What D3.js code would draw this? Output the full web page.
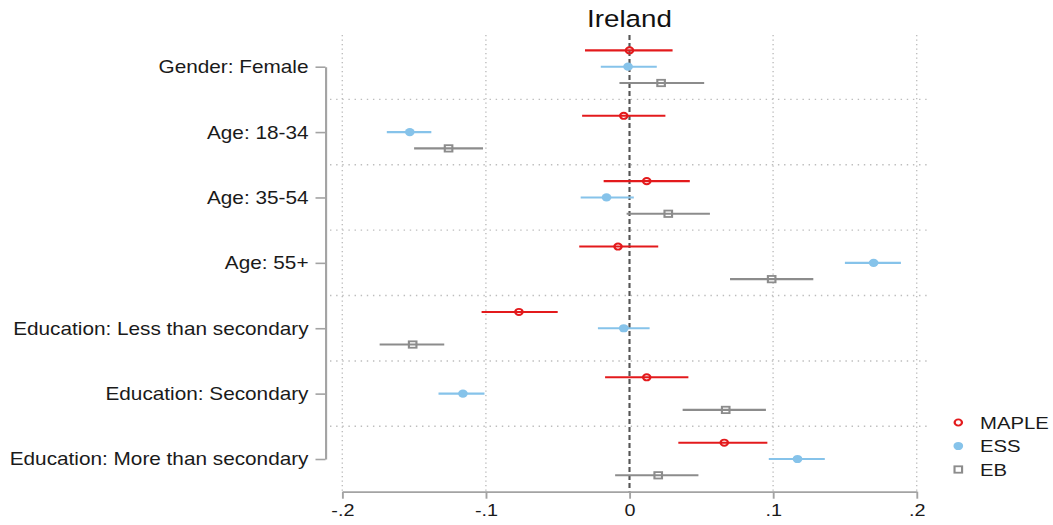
<!DOCTYPE html>
<html>
<head>
<meta charset="utf-8">
<script src="https://cdn.jsdelivr.net/npm/d3@7"></script>
<style>
  html, body { margin: 0; padding: 0; background: #fff; }
  svg { display: block; font-family: "Liberation Sans", Arial, sans-serif; }
</style>
</head>
<body>
<div id="chart"></div>
<script>
// ── Data ───────────────────────────────────────────────────────────────────
var categories = [
  "Gender: Female",
  "Age: 18-34",
  "Age: 35-54",
  "Age: 55+",
  "Education: Less than secondary",
  "Education: Secondary",
  "Education: More than secondary"
];

var mapleEst = [ 0.000, -0.004,  0.012, -0.008, -0.077,  0.012,  0.066];
var mapleLo  = [-0.031, -0.033, -0.018, -0.035, -0.103, -0.017,  0.034];
var mapleHi  = [ 0.030,  0.025,  0.042,  0.020, -0.050,  0.041,  0.096];

var essEst   = [-0.001, -0.153, -0.016,  0.170, -0.004, -0.116,  0.117];
var essLo    = [-0.020, -0.169, -0.034,  0.150, -0.022, -0.133,  0.097];
var essHi    = [ 0.019, -0.138,  0.003,  0.189,  0.014, -0.101,  0.136];

var ebEst    = [ 0.022, -0.126,  0.027,  0.099, -0.151,  0.067,  0.020];
var ebLo     = [-0.007, -0.150, -0.002,  0.070, -0.174,  0.037, -0.010];
var ebHi     = [ 0.052, -0.102,  0.056,  0.128, -0.129,  0.095,  0.048];

var seriesNames = ["MAPLE", "ESS", "EB"];
var xTicks      = [-0.2, -0.1, 0, 0.1, 0.2];
var xTickLabels = ["-.2", "-.1", "0", ".1", ".2"];
var title       = "Ireland";

// ── Layout ────────────────────────────────────────────────────────────────
// The reference is horizontally stretched; draw in a narrower box and
// let the svg stretch it back out.
var W = 1053, H = 525, S = 1.18;
function sx(px) { return px / S; }

var COLORS = { MAPLE: "#e31a1c", ESS: "#86c3ea", EB: "#8c8c8c" };
var OFFSET = { MAPLE: -16.3, ESS: 0, EB: 16.3 };

var series = [
  { name: "MAPLE", est: mapleEst, lo: mapleLo, hi: mapleHi },
  { name: "ESS",   est: essEst,   lo: essLo,   hi: essHi },
  { name: "EB",    est: ebEst,    lo: ebLo,    hi: ebHi }
];

var svg = d3.select("#chart").append("svg")
  .attr("width", W)
  .attr("height", H)
  .attr("viewBox", "0 0 " + sx(W) + " " + H)
  .attr("preserveAspectRatio", "none");

var x = d3.scaleLinear().domain([-0.2, 0.2]).range([sx(342.3), sx(916.7)]);
var y = d3.scalePoint().domain(categories).range([66.7, 459]);
var plotTop = 35, plotBottom = 491.7;

// ── Grid ──────────────────────────────────────────────────────────────────
var grid = svg.append("g");
var step = y.step();
grid.selectAll("line.h")
  .data(categories.slice(0, -1))
  .join("line")
  .attr("class", "h")
  .attr("x1", sx(330)).attr("x2", sx(930))
  .attr("y1", function (d) { return y(d) + step / 2; })
  .attr("y2", function (d) { return y(d) + step / 2; })
  .attr("stroke", "#bdbdbd")
  .attr("stroke-width", 1.4)
  .attr("stroke-dasharray", "1.2 4");

grid.selectAll("line.v")
  .data(xTicks.filter(function (t) { return t !== 0; }))
  .join("line")
  .attr("class", "v")
  .attr("x1", function (d) { return x(d); })
  .attr("x2", function (d) { return x(d); })
  .attr("y1", plotTop).attr("y2", plotBottom)
  .attr("stroke", "#bdbdbd")
  .attr("stroke-width", 1.2)
  .attr("stroke-dasharray", "1.2 3.3");

// zero reference line
svg.append("line")
  .attr("x1", x(0)).attr("x2", x(0))
  .attr("y1", plotTop).attr("y2", plotBottom)
  .attr("stroke", "#555")
  .attr("stroke-width", 1.8)
  .attr("stroke-dasharray", "5 3");

// ── Axes ──────────────────────────────────────────────────────────────────
var xAxis = svg.append("g")
  .attr("transform", "translate(0," + plotBottom + ")")
  .call(d3.axisBottom(x)
    .tickValues(xTicks)
    .tickFormat(function (d, i) { return xTickLabels[i]; })
    .tickSize(7)
    .tickSizeOuter(0)
    .tickPadding(5));

var yAxis = svg.append("g")
  .attr("transform", "translate(" + sx(325.5) + ",0)")
  .call(d3.axisLeft(y)
    .tickSize(sx(10))
    .tickSizeOuter(0)
    .tickPadding(sx(7)));

[xAxis, yAxis].forEach(function (a) {
  a.select(".domain").attr("stroke", "#a3a3a3").attr("stroke-width", 1.8);
  a.selectAll(".tick line").attr("stroke", "#a3a3a3").attr("stroke-width", 1.6);
  a.selectAll(".tick text").attr("fill", "#1a1a1a").attr("font-family", "Liberation Sans, Arial, sans-serif");
});
xAxis.selectAll(".tick text").attr("font-size", 16.8);
yAxis.selectAll(".tick text").attr("font-size", 17.6).attr("dy", "0.34em");

// ── Title ─────────────────────────────────────────────────────────────────
svg.append("text")
  .attr("x", x(0))
  .attr("y", 27.3)
  .attr("text-anchor", "middle")
  .attr("font-size", 23.5)
  .attr("fill", "#111")
  .text(title);

// ── Marks ─────────────────────────────────────────────────────────────────
function drawMarker(sel, name) {
  if (name === "MAPLE") {
    sel.append("circle").attr("r", 3.1)
      .attr("fill", "none").attr("stroke", COLORS.MAPLE).attr("stroke-width", 1.9);
  } else if (name === "ESS") {
    sel.append("circle").attr("r", 4.1).attr("fill", COLORS.ESS);
  } else {
    sel.append("rect").attr("x", -3.2).attr("y", -3.2).attr("width", 6.4).attr("height", 6.4)
      .attr("fill", "none").attr("stroke", COLORS.EB).attr("stroke-width", 1.8);
  }
}

series.forEach(function (s) {
  var g = svg.append("g");
  var rows = categories.map(function (c, i) {
    return { cat: c, est: s.est[i], lo: s.lo[i], hi: s.hi[i] };
  });
  g.selectAll("line")
    .data(rows)
    .join("line")
    .attr("x1", function (d) { return x(d.lo); })
    .attr("x2", function (d) { return x(d.hi); })
    .attr("y1", function (d) { return y(d.cat) + OFFSET[s.name]; })
    .attr("y2", function (d) { return y(d.cat) + OFFSET[s.name]; })
    .attr("stroke", COLORS[s.name])
    .attr("stroke-width", 2.1);
  g.selectAll("g.pt")
    .data(rows)
    .join("g")
    .attr("class", "pt")
    .attr("transform", function (d) {
      return "translate(" + x(d.est) + "," + (y(d.cat) + OFFSET[s.name]) + ")";
    })
    .each(function () { drawMarker(d3.select(this), s.name); });
});

// ── Legend ────────────────────────────────────────────────────────────────
var legend = svg.append("g");
var ly = d3.scalePoint().domain(seriesNames).range([422.5, 469.5]);
seriesNames.forEach(function (name) {
  var item = legend.append("g")
    .attr("transform", "translate(" + sx(958.3) + "," + ly(name) + ")");
  drawMarker(item, name);
  item.append("text")
    .attr("x", sx(980) - sx(958.3))
    .attr("dy", "0.35em")
    .attr("font-size", 17.2)
    .attr("fill", "#1a1a1a")
    .text(name);
});
</script>
</body>
</html>
